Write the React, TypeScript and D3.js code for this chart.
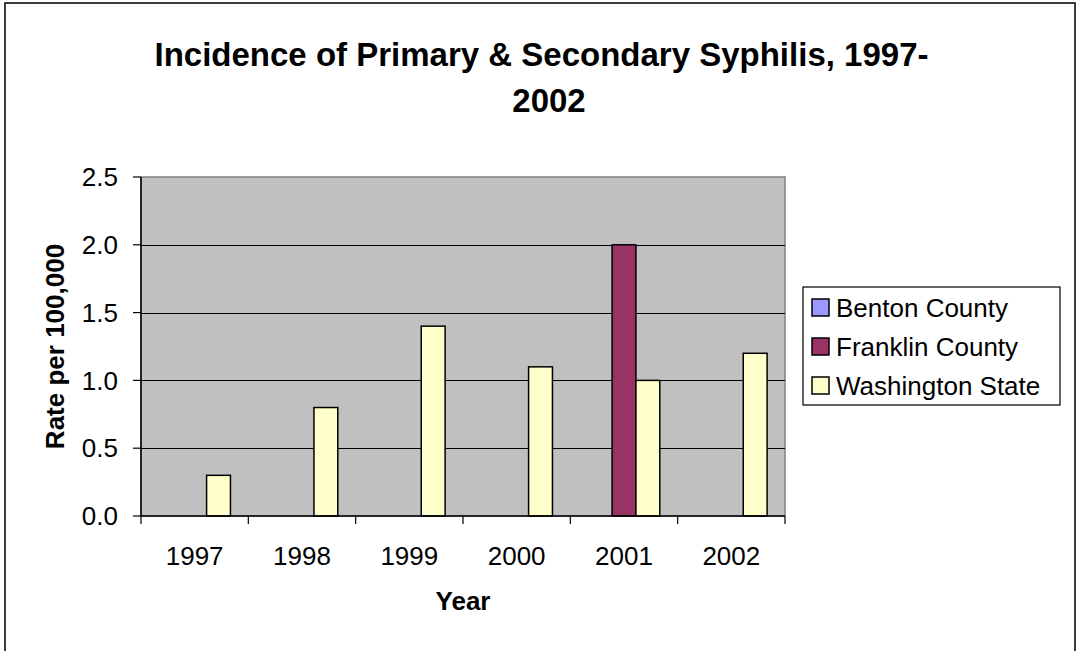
import { useEffect, useRef } from 'react';
import * as d3 from 'd3';

const years = ['1997', '1998', '1999', '2000', '2001', '2002'];
const seriesNames = ['Benton County', 'Franklin County', 'Washington State'];
const bentonCounty = [0, 0, 0, 0, 0, 0];
const franklinCounty = [0, 0, 0, 0, 2.0, 0];
const washingtonState = [0.3, 0.8, 1.4, 1.1, 1.0, 1.2];
const seriesColors = ['#9999FF', '#993366', '#FFFFCC'];
const yTicks = [0, 0.5, 1.0, 1.5, 2.0, 2.5];
const titleLines = ['Incidence of Primary & Secondary Syphilis, 1997-', '2002'];

const FONT = '"Liberation Sans", Arial, sans-serif';

export default function App() {
  const ref = useRef<HTMLDivElement>(null);
  useEffect(() => {
    const width = 1077;
    const height = 651;
    const plotLeft = 141;
    const plotRight = 785;
    const plotTop = 177;
    const plotBottom = 516;

    const seriesValues = [bentonCounty, franklinCounty, washingtonState];

    const x = d3.scaleBand<string>()
      .domain(years)
      .range([plotLeft, plotRight])
      .paddingInner(0)
      .paddingOuter(0);

    // 150% gap width: 3 bars + 1.5 bar of gap per category
    const barW = x.bandwidth() / 4.5;

    const y = d3.scaleLinear()
      .domain([0, 2.5])
      .range([plotBottom, plotTop]);

    const svg = d3.create('svg')
      .attr('width', width)
      .attr('height', height)
      .attr('viewBox', [0, 0, width, height])
      .attr('style', 'position:absolute;left:0;top:0;background:#fff')
      .attr('font-family', FONT);

    // chart area border
    svg.append('rect')
      .attr('x', 5)
      .attr('y', 3)
      .attr('width', 1070)
      .attr('height', 660)
      .attr('fill', '#fff')
      .attr('stroke', '#000')
      .attr('stroke-width', 1.5);

    // title
    svg.append('g')
      .attr('font-size', 33)
      .attr('font-weight', 'bold')
      .attr('text-anchor', 'middle')
      .selectAll('text')
      .data(titleLines)
      .join('text')
      .attr('x', (_, i) => (i === 0 ? 541.5 : 549))
      .attr('y', (_, i) => 66 + i * 46)
      .text((d) => d);

    // plot area
    svg.append('rect')
      .attr('x', plotLeft)
      .attr('y', plotTop)
      .attr('width', plotRight - plotLeft)
      .attr('height', plotBottom - plotTop)
      .attr('fill', '#C0C0C0')
      .attr('stroke', '#808080')
      .attr('stroke-width', 1.5);

    // gridlines
    svg.append('g')
      .selectAll('line')
      .data(yTicks.filter((t) => t > 0 && t < 2.5))
      .join('line')
      .attr('x1', plotLeft)
      .attr('x2', plotRight)
      .attr('y1', (d) => Math.round(y(d)) + 0.5)
      .attr('y2', (d) => Math.round(y(d)) + 0.5)
      .attr('stroke', '#000')
      .attr('stroke-width', 1);

    // bars
    seriesValues.forEach((vals, si) => {
      svg.append('g')
        .attr('fill', seriesColors[si])
        .attr('stroke', '#000')
        .attr('stroke-width', 1.5)
        .selectAll('rect')
        .data(vals.map((v, i) => ({ v, year: years[i] })).filter((d) => d.v > 0))
        .join('rect')
        .attr('x', (d) => x(d.year)! + barW * 0.75 + si * barW)
        .attr('width', barW)
        .attr('y', (d) => y(d.v))
        .attr('height', (d) => y(0) - y(d.v));
    });

    // y axis
    const yAxis = svg.append('g').attr('transform', `translate(${plotLeft},0)`);
    yAxis.append('line')
      .attr('y1', plotTop).attr('y2', plotBottom)
      .attr('stroke', '#000').attr('stroke-width', 1.5);
    const yt = yAxis.selectAll('g.tick')
      .data(yTicks)
      .join('g')
      .attr('class', 'tick')
      .attr('transform', (d) => `translate(0,${y(d)})`);
    yt.append('line').attr('x1', -8).attr('x2', 0).attr('stroke', '#000').attr('stroke-width', 1.2);
    yt.append('text')
      .attr('x', -23)
      .attr('dy', '0.35em')
      .attr('text-anchor', 'end')
      .attr('font-size', 26)
      .attr('fill', '#000')
      .text((d) => d3.format('.1f')(d));

    // x axis
    const xAxis = svg.append('g').attr('transform', `translate(0,${plotBottom})`);
    xAxis.append('line')
      .attr('x1', plotLeft).attr('x2', plotRight)
      .attr('stroke', '#000').attr('stroke-width', 1.5);
    xAxis.selectAll('line.tick')
      .data([...years.map((yr) => x(yr)!), plotRight])
      .join('line')
      .attr('class', 'tick')
      .attr('x1', (d) => d).attr('x2', (d) => d)
      .attr('y1', 0).attr('y2', 8)
      .attr('stroke', '#000').attr('stroke-width', 1.2);
    xAxis.selectAll('text')
      .data(years)
      .join('text')
      .attr('x', (d) => x(d)! + x.bandwidth() / 2)
      .attr('y', 49)
      .attr('text-anchor', 'middle')
      .attr('font-size', 26)
      .text((d) => d);

    // axis titles
    svg.append('text')
      .attr('x', (plotLeft + plotRight) / 2)
      .attr('y', 610)
      .attr('text-anchor', 'middle')
      .attr('font-size', 26)
      .attr('font-weight', 'bold')
      .text('Year');

    svg.append('text')
      .attr('transform', `translate(64,${(plotTop + plotBottom) / 2}) rotate(-90)`)
      .attr('text-anchor', 'middle')
      .attr('font-size', 26)
      .attr('font-weight', 'bold')
      .text('Rate per 100,000');

    // legend
    const legend = svg.append('g').attr('transform', 'translate(803,287)');
    legend.append('rect')
      .attr('width', 257)
      .attr('height', 118)
      .attr('fill', '#fff')
      .attr('stroke', '#000')
      .attr('stroke-width', 1.2);
    const items = legend.selectAll('g.item')
      .data(seriesNames)
      .join('g')
      .attr('class', 'item')
      .attr('transform', (_, i) => `translate(0,${12 + i * 39})`);
    items.append('rect')
      .attr('x', 9)
      .attr('width', 17)
      .attr('height', 17)
      .attr('fill', (_, i) => seriesColors[i])
      .attr('stroke', '#000')
      .attr('stroke-width', 1.5);
    items.append('text')
      .attr('x', 33)
      .attr('y', 18)
      .attr('font-size', 26)
      .text((d) => d);

    const node = svg.node()!;
    ref.current?.append(node);
    return () => {
      node.remove();
    };
  }, []);
  return <div ref={ref} />;
}
